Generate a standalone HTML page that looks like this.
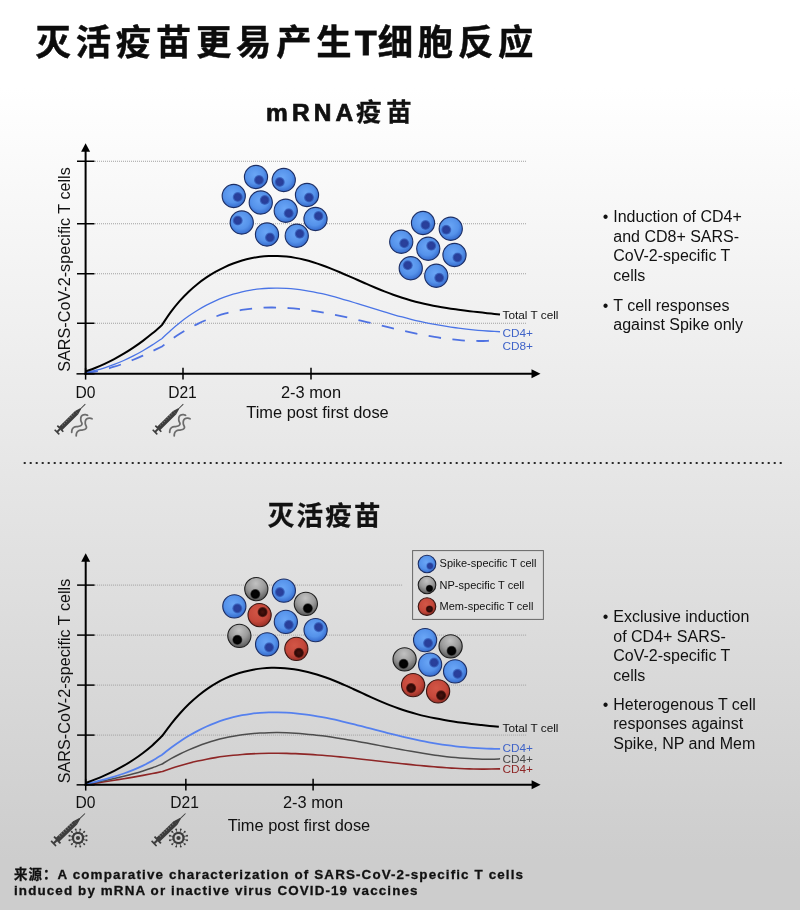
<!DOCTYPE html>
<html lang="zh"><head><meta charset="utf-8"><title>灭活疫苗更易产生T细胞反应</title>
<style>html,body{margin:0;padding:0;background:#cdcdcd}body{width:800px;height:910px;overflow:hidden}svg{display:block}</style>
</head><body>
<svg width="800" height="910" viewBox="0 0 800 910">
<defs>
<linearGradient id="bg" x1="0" y1="0" x2="0" y2="1">
<stop offset="0" stop-color="#ffffff"/><stop offset="0.097" stop-color="#ffffff"/><stop offset="0.945" stop-color="#cdcdcd"/><stop offset="1" stop-color="#cdcdcd"/>
</linearGradient>
<radialGradient id="gb" cx="0.45" cy="0.4" r="0.64"><stop offset="0" stop-color="#6aa6f6"/><stop offset="0.6" stop-color="#5592ea"/><stop offset="0.86" stop-color="#3d74d4"/><stop offset="1" stop-color="#2c5cbc"/></radialGradient>
<radialGradient id="nb" cx="0.5" cy="0.5" r="0.5"><stop offset="0" stop-color="#2c409c"/><stop offset="0.65" stop-color="#273f9a"/><stop offset="1" stop-color="#2c50b0" stop-opacity="0.5"/></radialGradient>
<radialGradient id="gg" cx="0.48" cy="0.26" r="0.8"><stop offset="0" stop-color="#c2c2c2"/><stop offset="0.5" stop-color="#9a9a9a"/><stop offset="1" stop-color="#4c4c4c"/></radialGradient>
<radialGradient id="ng" cx="0.5" cy="0.5" r="0.5"><stop offset="0" stop-color="#050505"/><stop offset="0.75" stop-color="#000"/><stop offset="1" stop-color="#222" stop-opacity="0.6"/></radialGradient>
<radialGradient id="gr" cx="0.42" cy="0.36" r="0.7"><stop offset="0" stop-color="#d25646"/><stop offset="0.6" stop-color="#c4473a"/><stop offset="1" stop-color="#8e2a22"/></radialGradient>
<radialGradient id="nr" cx="0.5" cy="0.5" r="0.5"><stop offset="0" stop-color="#4a120e"/><stop offset="0.7" stop-color="#2e0906"/><stop offset="1" stop-color="#3a0e0a" stop-opacity="0.6"/></radialGradient>
</defs>
<rect width="800" height="910" fill="url(#bg)"/>

<text x="35.6" y="54.5" font-family="'Liberation Sans', 'Noto Sans CJK SC', sans-serif" font-weight="700" font-size="35.3" letter-spacing="4.8" fill="#0c0c0c" stroke="#0c0c0c" stroke-width="0.45">灭活疫苗更易产生<tspan dx="-1.5" letter-spacing="1.3" stroke-width="1">T</tspan>细胞反应</text>
<text x="266" y="121" font-family="'Liberation Sans', 'Noto Sans CJK SC', sans-serif" font-weight="700" font-size="25.5" letter-spacing="4.75" fill="#111" stroke="#111" stroke-width="0.3"><tspan font-size="24.5" letter-spacing="4.1" stroke="#111" stroke-width="0.7">mRNA</tspan><tspan dx="-1.2">疫苗</tspan></text>
<text x="267.8" y="524.6" font-family="'Liberation Sans', 'Noto Sans CJK SC', sans-serif" font-weight="700" font-size="26.5" letter-spacing="2.2" fill="#111" stroke="#111" stroke-width="0.3">灭活疫苗</text>
<line x1="23.7" y1="463" x2="783" y2="463" stroke="#2a2a2a" stroke-width="2" stroke-dasharray="2 4"/>
<line x1="95" y1="161.25" x2="526.00" y2="161.25" stroke="#a0a0a0" stroke-width="1" stroke-dasharray="1 1"/><line x1="95" y1="223.75" x2="526.00" y2="223.75" stroke="#a0a0a0" stroke-width="1" stroke-dasharray="1 1"/><line x1="95" y1="273.75" x2="526.00" y2="273.75" stroke="#a0a0a0" stroke-width="1" stroke-dasharray="1 1"/><line x1="95" y1="323.25" x2="526.00" y2="323.25" stroke="#a0a0a0" stroke-width="1" stroke-dasharray="1 1"/>
<path d="M85.50,373.00 C87.09,372.76 91.88,372.17 95.06,371.58 C98.25,370.99 101.44,370.28 104.62,369.47 C107.81,368.66 111.00,367.73 114.19,366.73 C117.38,365.72 120.56,364.62 123.75,363.45 C126.94,362.28 130.12,361.02 133.31,359.71 C136.50,358.39 139.69,357.01 142.88,355.58 C146.06,354.15 149.25,352.67 152.44,351.15 C155.62,349.64 160.41,347.28 162.00,346.50 C163.51,345.36 168.06,341.80 171.08,339.65 C174.11,337.49 177.14,335.47 180.17,333.56 C183.19,331.66 186.22,329.88 189.25,328.21 C192.28,326.55 195.31,325.00 198.33,323.57 C201.36,322.13 204.39,320.81 207.42,319.59 C210.44,318.36 213.47,317.25 216.50,316.24 C219.53,315.22 222.56,314.31 225.58,313.49 C228.61,312.66 231.64,311.94 234.67,311.30 C237.69,310.66 240.72,310.12 243.75,309.65 C246.78,309.18 249.81,308.80 252.83,308.49 C255.86,308.18 258.89,307.95 261.92,307.79 C264.94,307.63 267.97,307.55 271.00,307.52 C274.03,307.50 277.06,307.55 280.08,307.65 C283.11,307.75 286.14,307.92 289.17,308.13 C292.19,308.35 295.22,308.63 298.25,308.95 C301.28,309.26 304.31,309.64 307.33,310.05 C310.36,310.46 313.39,310.92 316.42,311.41 C319.44,311.90 322.47,312.43 325.50,312.99 C328.53,313.55 331.56,314.15 334.58,314.76 C337.61,315.38 340.64,316.03 343.67,316.69 C346.69,317.35 349.72,318.04 352.75,318.74 C355.78,319.43 358.81,320.15 361.83,320.87 C364.86,321.59 367.89,322.33 370.92,323.06 C373.94,323.79 376.97,324.53 380.00,325.26 C383.03,326.00 386.06,326.73 389.08,327.45 C392.11,328.18 395.14,328.89 398.17,329.59 C401.19,330.29 404.22,330.98 407.25,331.65 C410.28,332.32 413.31,332.97 416.33,333.59 C419.36,334.21 422.39,334.81 425.42,335.37 C428.44,335.94 431.47,336.48 434.50,336.97 C437.53,337.47 440.56,337.94 443.58,338.35 C446.61,338.77 449.64,339.15 452.67,339.48 C455.69,339.80 458.72,340.09 461.75,340.31 C464.78,340.54 467.81,340.72 470.83,340.83 C473.86,340.94 476.89,341.00 479.92,340.98 C482.94,340.97 487.49,340.79 489.00,340.75" fill="none" stroke="#4f72e2" stroke-width="1.8" stroke-dasharray="12.5 11.5" stroke-dashoffset="0"/>
<path d="M85.50,372.50 C87.09,372.16 91.88,371.25 95.06,370.47 C98.25,369.68 101.44,368.78 104.62,367.78 C107.81,366.78 111.00,365.67 114.19,364.45 C117.38,363.23 120.56,361.91 123.75,360.49 C126.94,359.06 130.12,357.53 133.31,355.90 C136.50,354.27 139.69,352.53 142.88,350.70 C146.06,348.86 149.25,346.93 152.44,344.90 C155.62,342.86 160.41,339.57 162.00,338.50 C163.48,337.11 167.93,332.81 170.89,330.18 C173.86,327.55 176.82,325.06 179.79,322.71 C182.75,320.36 185.72,318.16 188.68,316.08 C191.65,314.00 194.61,312.06 197.58,310.24 C200.54,308.42 203.51,306.73 206.47,305.16 C209.44,303.59 212.40,302.15 215.37,300.81 C218.33,299.48 221.30,298.27 224.26,297.16 C227.23,296.06 230.19,295.07 233.16,294.18 C236.12,293.29 239.09,292.51 242.05,291.82 C245.02,291.14 247.98,290.56 250.95,290.07 C253.91,289.58 256.88,289.19 259.84,288.89 C262.81,288.58 265.77,288.37 268.74,288.24 C271.70,288.10 274.67,288.06 277.63,288.09 C280.60,288.12 283.56,288.23 286.53,288.41 C289.49,288.59 292.46,288.85 295.42,289.17 C298.39,289.49 301.35,289.88 304.32,290.33 C307.28,290.78 310.25,291.30 313.21,291.86 C316.18,292.43 319.14,293.06 322.11,293.74 C325.07,294.41 328.04,295.15 331.00,295.92 C333.96,296.68 336.93,297.51 339.89,298.35 C342.86,299.19 345.82,300.07 348.79,300.96 C351.75,301.85 354.72,302.77 357.68,303.69 C360.65,304.61 363.61,305.55 366.58,306.48 C369.54,307.40 372.51,308.33 375.47,309.24 C378.44,310.15 381.40,311.06 384.37,311.94 C387.33,312.82 390.30,313.68 393.26,314.52 C396.23,315.36 399.19,316.19 402.16,316.98 C405.12,317.77 408.09,318.54 411.05,319.27 C414.02,320.00 416.98,320.71 419.95,321.37 C422.91,322.04 425.88,322.67 428.84,323.27 C431.81,323.86 434.77,324.42 437.74,324.95 C440.70,325.48 443.67,325.98 446.63,326.44 C449.60,326.91 452.56,327.34 455.53,327.75 C458.49,328.15 461.46,328.52 464.42,328.87 C467.39,329.22 470.35,329.53 473.32,329.82 C476.28,330.11 479.25,330.38 482.21,330.61 C485.18,330.85 488.14,331.06 491.11,331.25 C494.07,331.44 498.52,331.67 500.00,331.75" fill="none" stroke="#4a74e6" stroke-width="1.3"/>
<path d="M85.50,371.50 C87.09,370.91 91.88,369.24 95.06,367.96 C98.25,366.68 101.44,365.31 104.62,363.84 C107.81,362.36 111.00,360.79 114.19,359.10 C117.38,357.41 120.56,355.62 123.75,353.71 C126.94,351.80 130.12,349.78 133.31,347.64 C136.50,345.49 139.69,343.24 142.88,340.85 C146.06,338.46 149.25,335.96 152.44,333.32 C155.62,330.67 160.41,326.39 162.00,325.00 C163.48,322.83 167.93,315.97 170.89,311.96 C173.86,307.96 176.82,304.32 179.79,300.94 C182.75,297.56 185.72,294.52 188.68,291.69 C191.65,288.85 194.61,286.31 197.58,283.94 C200.54,281.57 203.51,279.45 206.47,277.45 C209.44,275.46 212.40,273.66 215.37,271.97 C218.33,270.29 221.30,268.75 224.26,267.35 C227.23,265.94 230.19,264.68 233.16,263.54 C236.12,262.41 239.09,261.41 242.05,260.53 C245.02,259.66 247.98,258.91 250.95,258.29 C253.91,257.67 256.88,257.18 259.84,256.81 C262.81,256.43 265.77,256.18 268.74,256.04 C271.70,255.91 274.67,255.89 277.63,255.98 C280.60,256.08 283.56,256.29 286.53,256.60 C289.49,256.92 292.46,257.35 295.42,257.88 C298.39,258.41 301.35,259.06 304.32,259.79 C307.28,260.52 310.25,261.37 313.21,262.27 C316.18,263.18 319.14,264.18 322.11,265.24 C325.07,266.29 328.04,267.42 331.00,268.58 C333.96,269.75 336.93,270.97 339.89,272.22 C342.86,273.46 345.82,274.75 348.79,276.05 C351.75,277.34 354.72,278.67 357.68,279.98 C360.65,281.29 363.61,282.61 366.58,283.91 C369.54,285.20 372.51,286.50 375.47,287.75 C378.44,289.00 381.40,290.23 384.37,291.40 C387.33,292.57 390.30,293.71 393.26,294.77 C396.23,295.84 399.19,296.84 402.16,297.78 C405.12,298.72 408.09,299.59 411.05,300.42 C414.02,301.24 416.98,302.01 419.95,302.73 C422.91,303.45 425.88,304.11 428.84,304.74 C431.81,305.36 434.77,305.94 437.74,306.49 C440.70,307.04 443.67,307.54 446.63,308.02 C449.60,308.50 452.56,308.94 455.53,309.36 C458.49,309.78 461.46,310.17 464.42,310.55 C467.39,310.92 470.35,311.28 473.32,311.62 C476.28,311.96 479.25,312.29 482.21,312.61 C485.18,312.94 488.14,313.25 491.11,313.56 C494.07,313.88 498.52,314.34 500.00,314.50" fill="none" stroke="#000" stroke-width="2"/>
<line x1="85.6" y1="149.20" x2="85.6" y2="374.85" stroke="#000" stroke-width="2"/><polygon points="85.6,143.20 81.1,151.70 90.1,151.70" fill="#000"/><line x1="84.5" y1="373.85" x2="534" y2="373.85" stroke="#000" stroke-width="2"/><polygon points="540.5,373.85 531.5,369.35 531.5,378.35" fill="#000"/><line x1="77" y1="161.25" x2="94.5" y2="161.25" stroke="#000" stroke-width="1.5"/><line x1="77" y1="223.75" x2="94.5" y2="223.75" stroke="#000" stroke-width="1.5"/><line x1="77" y1="273.75" x2="94.5" y2="273.75" stroke="#000" stroke-width="1.5"/><line x1="77" y1="323.25" x2="94.5" y2="323.25" stroke="#000" stroke-width="1.5"/><line x1="76.5" y1="373.85" x2="94.5" y2="373.85" stroke="#000" stroke-width="1.5"/><line x1="85.60" y1="367.85" x2="85.60" y2="379.60" stroke="#000" stroke-width="1.5"/><line x1="183.00" y1="367.85" x2="183.00" y2="379.60" stroke="#000" stroke-width="1.5"/><line x1="311.00" y1="367.85" x2="311.00" y2="379.60" stroke="#000" stroke-width="1.5"/>
<circle cx="256.00" cy="177.00" r="11.60" fill="url(#gb)" stroke="#1c2e64" stroke-width="1.1"/><circle cx="259.00" cy="180.00" r="5.10" fill="url(#nb)"/>
<circle cx="283.75" cy="180.00" r="11.60" fill="url(#gb)" stroke="#1c2e64" stroke-width="1.1"/><circle cx="279.75" cy="182.00" r="5.10" fill="url(#nb)"/>
<circle cx="233.75" cy="196.00" r="11.60" fill="url(#gb)" stroke="#1c2e64" stroke-width="1.1"/><circle cx="237.75" cy="197.00" r="5.10" fill="url(#nb)"/>
<circle cx="260.75" cy="202.50" r="11.60" fill="url(#gb)" stroke="#1c2e64" stroke-width="1.1"/><circle cx="264.75" cy="200.00" r="5.10" fill="url(#nb)"/>
<circle cx="307.00" cy="195.00" r="11.60" fill="url(#gb)" stroke="#1c2e64" stroke-width="1.1"/><circle cx="309.00" cy="197.50" r="5.10" fill="url(#nb)"/>
<circle cx="285.75" cy="210.75" r="11.60" fill="url(#gb)" stroke="#1c2e64" stroke-width="1.1"/><circle cx="288.75" cy="213.25" r="5.10" fill="url(#nb)"/>
<circle cx="315.50" cy="219.00" r="11.60" fill="url(#gb)" stroke="#1c2e64" stroke-width="1.1"/><circle cx="318.50" cy="216.00" r="5.10" fill="url(#nb)"/>
<circle cx="241.75" cy="222.50" r="11.60" fill="url(#gb)" stroke="#1c2e64" stroke-width="1.1"/><circle cx="237.75" cy="220.50" r="5.10" fill="url(#nb)"/>
<circle cx="267.00" cy="234.50" r="11.60" fill="url(#gb)" stroke="#1c2e64" stroke-width="1.1"/><circle cx="270.00" cy="237.50" r="5.10" fill="url(#nb)"/>
<circle cx="296.75" cy="235.75" r="11.60" fill="url(#gb)" stroke="#1c2e64" stroke-width="1.1"/><circle cx="299.75" cy="233.75" r="5.10" fill="url(#nb)"/>
<circle cx="423.00" cy="223.00" r="11.60" fill="url(#gb)" stroke="#1c2e64" stroke-width="1.1"/><circle cx="425.50" cy="225.00" r="5.10" fill="url(#nb)"/>
<circle cx="450.75" cy="228.75" r="11.60" fill="url(#gb)" stroke="#1c2e64" stroke-width="1.1"/><circle cx="446.25" cy="229.75" r="5.10" fill="url(#nb)"/>
<circle cx="401.25" cy="241.75" r="11.60" fill="url(#gb)" stroke="#1c2e64" stroke-width="1.1"/><circle cx="404.25" cy="243.25" r="5.10" fill="url(#nb)"/>
<circle cx="428.25" cy="248.75" r="11.60" fill="url(#gb)" stroke="#1c2e64" stroke-width="1.1"/><circle cx="431.25" cy="245.75" r="5.10" fill="url(#nb)"/>
<circle cx="454.50" cy="255.00" r="11.60" fill="url(#gb)" stroke="#1c2e64" stroke-width="1.1"/><circle cx="457.50" cy="257.50" r="5.10" fill="url(#nb)"/>
<circle cx="410.75" cy="268.25" r="11.60" fill="url(#gb)" stroke="#1c2e64" stroke-width="1.1"/><circle cx="407.75" cy="265.25" r="5.10" fill="url(#nb)"/>
<circle cx="436.25" cy="275.75" r="11.60" fill="url(#gb)" stroke="#1c2e64" stroke-width="1.1"/><circle cx="439.25" cy="277.75" r="5.10" fill="url(#nb)"/>
<text x="502.5" y="319" font-family="'Liberation Sans', 'Noto Sans CJK SC', sans-serif" font-size="11.8" fill="#111">Total T cell</text>
<text x="502.5" y="336.75" font-family="'Liberation Sans', 'Noto Sans CJK SC', sans-serif" font-size="11.8" fill="#3f63c8">CD4+</text>
<text x="502.5" y="350" font-family="'Liberation Sans', 'Noto Sans CJK SC', sans-serif" font-size="11.8" fill="#3f63c8">CD8+</text>
<text x="85.5" y="397.5" text-anchor="middle" font-family="'Liberation Sans', 'Noto Sans CJK SC', sans-serif" font-size="15.6" fill="#111">D0</text>
<text x="182.5" y="397.5" text-anchor="middle" font-family="'Liberation Sans', 'Noto Sans CJK SC', sans-serif" font-size="15.6" fill="#111">D21</text>
<text x="311" y="397.5" text-anchor="middle" font-family="'Liberation Sans', 'Noto Sans CJK SC', sans-serif" font-size="16.4" fill="#111">2-3 mon</text>
<text x="317.5" y="418.4" text-anchor="middle" font-family="'Liberation Sans', 'Noto Sans CJK SC', sans-serif" font-size="16.4" fill="#111">Time post first dose</text>
<text transform="translate(70,269.5) rotate(-90)" text-anchor="middle" font-family="'Liberation Sans', 'Noto Sans CJK SC', sans-serif" font-size="16.2" fill="#111">SARS-CoV-2-specific T cells</text>
<g transform="translate(85.30,404.10) rotate(135.40) scale(1.0012)" fill="#3d3d3d" stroke="none"><rect x="0" y="-0.45" width="8" height="0.9"/><polygon points="6.6,-0.6 12.2,-2.3 12.2,2.3 6.6,0.6"/><rect x="12" y="-2.35" width="23" height="4.7" rx="0.5"/><rect x="34.2" y="-4.3" width="1.7" height="8.6" rx="0.4"/><rect x="35.5" y="-1.0" width="4" height="2.0"/><rect x="38.9" y="-3.3" width="1.6" height="6.6" rx="0.4"/><rect x="15.00" y="0.3" width="0.55" height="2.05" fill="#909090"/><rect x="17.60" y="0.3" width="0.55" height="2.05" fill="#909090"/><rect x="20.20" y="0.3" width="0.55" height="2.05" fill="#909090"/><rect x="22.80" y="0.3" width="0.55" height="2.05" fill="#909090"/><rect x="25.40" y="0.3" width="0.55" height="2.05" fill="#909090"/><rect x="28.00" y="0.3" width="0.55" height="2.05" fill="#909090"/><rect x="30.60" y="0.3" width="0.55" height="2.05" fill="#909090"/></g>
<path d="M87.60,415.25 C87.25,415.15 86.20,414.72 85.50,414.65 C84.80,414.57 84.03,414.61 83.40,414.80 C82.77,414.99 82.12,415.35 81.70,415.80 C81.28,416.25 81.06,416.93 80.90,417.50 C80.74,418.07 80.75,418.65 80.75,419.20 C80.75,419.75 80.76,420.27 80.90,420.80 C81.04,421.33 81.42,421.92 81.60,422.40 C81.78,422.88 82.02,423.22 82.00,423.65 C81.98,424.08 81.83,424.61 81.50,425.00 C81.17,425.39 80.67,425.73 80.00,426.00 C79.33,426.27 78.33,426.45 77.50,426.60 C76.67,426.75 75.70,426.70 75.00,426.90 C74.30,427.10 73.77,427.40 73.30,427.80 C72.83,428.20 72.45,428.77 72.20,429.30 C71.95,429.83 71.88,430.48 71.80,431.00 C71.72,431.52 71.72,432.17 71.70,432.40" fill="none" stroke="#6c6c6c" stroke-width="1.75" stroke-linecap="round"/><path d="M92.10,418.75 C91.75,418.65 90.70,418.22 90.00,418.15 C89.30,418.07 88.53,418.11 87.90,418.30 C87.27,418.49 86.62,418.85 86.20,419.30 C85.78,419.75 85.56,420.43 85.40,421.00 C85.24,421.57 85.25,422.15 85.25,422.70 C85.25,423.25 85.26,423.77 85.40,424.30 C85.54,424.83 85.92,425.42 86.10,425.90 C86.28,426.38 86.52,426.72 86.50,427.15 C86.48,427.58 86.33,428.11 86.00,428.50 C85.67,428.89 85.17,429.23 84.50,429.50 C83.83,429.77 82.83,429.95 82.00,430.10 C81.17,430.25 80.20,430.20 79.50,430.40 C78.80,430.60 78.27,430.90 77.80,431.30 C77.33,431.70 76.95,432.27 76.70,432.80 C76.45,433.33 76.38,433.98 76.30,434.50 C76.22,435.02 76.22,435.67 76.20,435.90" fill="none" stroke="#6c6c6c" stroke-width="1.75" stroke-linecap="round"/>
<g transform="translate(183.30,404.10) rotate(135.40) scale(1.0012)" fill="#3d3d3d" stroke="none"><rect x="0" y="-0.45" width="8" height="0.9"/><polygon points="6.6,-0.6 12.2,-2.3 12.2,2.3 6.6,0.6"/><rect x="12" y="-2.35" width="23" height="4.7" rx="0.5"/><rect x="34.2" y="-4.3" width="1.7" height="8.6" rx="0.4"/><rect x="35.5" y="-1.0" width="4" height="2.0"/><rect x="38.9" y="-3.3" width="1.6" height="6.6" rx="0.4"/><rect x="15.00" y="0.3" width="0.55" height="2.05" fill="#909090"/><rect x="17.60" y="0.3" width="0.55" height="2.05" fill="#909090"/><rect x="20.20" y="0.3" width="0.55" height="2.05" fill="#909090"/><rect x="22.80" y="0.3" width="0.55" height="2.05" fill="#909090"/><rect x="25.40" y="0.3" width="0.55" height="2.05" fill="#909090"/><rect x="28.00" y="0.3" width="0.55" height="2.05" fill="#909090"/><rect x="30.60" y="0.3" width="0.55" height="2.05" fill="#909090"/></g>
<path d="M185.60,415.25 C185.25,415.15 184.20,414.72 183.50,414.65 C182.80,414.57 182.03,414.61 181.40,414.80 C180.77,414.99 180.12,415.35 179.70,415.80 C179.28,416.25 179.06,416.93 178.90,417.50 C178.74,418.07 178.75,418.65 178.75,419.20 C178.75,419.75 178.76,420.27 178.90,420.80 C179.04,421.33 179.42,421.92 179.60,422.40 C179.78,422.88 180.02,423.22 180.00,423.65 C179.98,424.08 179.83,424.61 179.50,425.00 C179.17,425.39 178.67,425.73 178.00,426.00 C177.33,426.27 176.33,426.45 175.50,426.60 C174.67,426.75 173.70,426.70 173.00,426.90 C172.30,427.10 171.77,427.40 171.30,427.80 C170.83,428.20 170.45,428.77 170.20,429.30 C169.95,429.83 169.88,430.48 169.80,431.00 C169.72,431.52 169.72,432.17 169.70,432.40" fill="none" stroke="#6c6c6c" stroke-width="1.75" stroke-linecap="round"/><path d="M190.10,418.75 C189.75,418.65 188.70,418.22 188.00,418.15 C187.30,418.07 186.53,418.11 185.90,418.30 C185.27,418.49 184.62,418.85 184.20,419.30 C183.78,419.75 183.56,420.43 183.40,421.00 C183.24,421.57 183.25,422.15 183.25,422.70 C183.25,423.25 183.26,423.77 183.40,424.30 C183.54,424.83 183.92,425.42 184.10,425.90 C184.28,426.38 184.52,426.72 184.50,427.15 C184.48,427.58 184.33,428.11 184.00,428.50 C183.67,428.89 183.17,429.23 182.50,429.50 C181.83,429.77 180.83,429.95 180.00,430.10 C179.17,430.25 178.20,430.20 177.50,430.40 C176.80,430.60 176.27,430.90 175.80,431.30 C175.33,431.70 174.95,432.27 174.70,432.80 C174.45,433.33 174.38,433.98 174.30,434.50 C174.22,435.02 174.22,435.67 174.20,435.90" fill="none" stroke="#6c6c6c" stroke-width="1.75" stroke-linecap="round"/>
<text x="602.75" y="222.25" font-family="'Liberation Sans', 'Noto Sans CJK SC', sans-serif" font-size="16" fill="#111">•</text><text x="613.25" y="222.25" font-family="'Liberation Sans', 'Noto Sans CJK SC', sans-serif" font-size="16" fill="#111">Induction of CD4+</text><text x="613.25" y="241.75" font-family="'Liberation Sans', 'Noto Sans CJK SC', sans-serif" font-size="16" fill="#111">and CD8+ SARS-</text><text x="613.25" y="261.25" font-family="'Liberation Sans', 'Noto Sans CJK SC', sans-serif" font-size="16" fill="#111">CoV-2-specific T</text><text x="613.25" y="280.75" font-family="'Liberation Sans', 'Noto Sans CJK SC', sans-serif" font-size="16" fill="#111">cells</text><text x="602.75" y="310.50" font-family="'Liberation Sans', 'Noto Sans CJK SC', sans-serif" font-size="16" fill="#111">•</text><text x="613.25" y="310.50" font-family="'Liberation Sans', 'Noto Sans CJK SC', sans-serif" font-size="16" fill="#111">T cell responses</text><text x="613.25" y="330.00" font-family="'Liberation Sans', 'Noto Sans CJK SC', sans-serif" font-size="16" fill="#111">against Spike only</text>
<g transform="translate(0.1,0.1)">
<line x1="95" y1="585.00" x2="403.00" y2="585.00" stroke="#a0a0a0" stroke-width="1" stroke-dasharray="1 1"/><line x1="95" y1="635.00" x2="526.00" y2="635.00" stroke="#a0a0a0" stroke-width="1" stroke-dasharray="1 1"/><line x1="95" y1="685.00" x2="526.00" y2="685.00" stroke="#a0a0a0" stroke-width="1" stroke-dasharray="1 1"/><line x1="95" y1="735.00" x2="526.00" y2="735.00" stroke="#a0a0a0" stroke-width="1" stroke-dasharray="1 1"/>
<path d="M85.50,784.50 C87.09,784.26 91.88,783.54 95.06,783.06 C98.25,782.58 101.44,782.10 104.62,781.62 C107.81,781.13 111.00,780.64 114.19,780.14 C117.38,779.64 120.56,779.14 123.75,778.61 C126.94,778.09 130.12,777.56 133.31,777.01 C136.50,776.46 139.69,775.89 142.88,775.30 C146.06,774.72 149.25,774.11 152.44,773.48 C155.62,772.84 160.41,771.83 162.00,771.50 C163.48,770.98 167.93,769.36 170.89,768.37 C173.86,767.39 176.82,766.46 179.79,765.58 C182.75,764.71 185.72,763.89 188.68,763.12 C191.65,762.35 194.61,761.64 197.58,760.97 C200.54,760.30 203.51,759.68 206.47,759.11 C209.44,758.53 212.40,758.01 215.37,757.53 C218.33,757.05 221.30,756.61 224.26,756.22 C227.23,755.82 230.19,755.47 233.16,755.15 C236.12,754.84 239.09,754.57 242.05,754.33 C245.02,754.09 247.98,753.90 250.95,753.73 C253.91,753.57 256.88,753.44 259.84,753.34 C262.81,753.24 265.77,753.18 268.74,753.14 C271.70,753.10 274.67,753.10 277.63,753.12 C280.60,753.14 283.56,753.19 286.53,753.27 C289.49,753.34 292.46,753.44 295.42,753.57 C298.39,753.69 301.35,753.83 304.32,754.00 C307.28,754.16 310.25,754.35 313.21,754.55 C316.18,754.76 319.14,754.98 322.11,755.22 C325.07,755.45 328.04,755.71 331.00,755.97 C333.96,756.24 336.93,756.52 339.89,756.81 C342.86,757.09 345.82,757.40 348.79,757.70 C351.75,758.01 354.72,758.33 357.68,758.65 C360.65,758.97 363.61,759.30 366.58,759.63 C369.54,759.96 372.51,760.30 375.47,760.64 C378.44,760.97 381.40,761.31 384.37,761.64 C387.33,761.98 390.30,762.32 393.26,762.65 C396.23,762.98 399.19,763.30 402.16,763.62 C405.12,763.94 408.09,764.26 411.05,764.56 C414.02,764.87 416.98,765.17 419.95,765.45 C422.91,765.74 425.88,766.02 428.84,766.28 C431.81,766.54 434.77,766.79 437.74,767.02 C440.70,767.25 443.67,767.47 446.63,767.67 C449.60,767.86 452.56,768.05 455.53,768.20 C458.49,768.36 461.46,768.50 464.42,768.62 C467.39,768.73 470.35,768.83 473.32,768.90 C476.28,768.96 479.25,769.01 482.21,769.02 C485.18,769.03 488.14,769.02 491.11,768.97 C494.07,768.93 498.52,768.79 500.00,768.75" fill="none" stroke="#8e2626" stroke-width="1.6"/>
<path d="M85.50,784.30 C87.09,783.98 91.88,783.00 95.06,782.35 C98.25,781.70 101.44,781.07 104.62,780.41 C107.81,779.74 111.00,779.08 114.19,778.37 C117.38,777.67 120.56,776.95 123.75,776.17 C126.94,775.39 130.12,774.58 133.31,773.71 C136.50,772.83 139.69,771.90 142.88,770.90 C146.06,769.89 149.25,768.82 152.44,767.66 C155.62,766.49 160.41,764.53 162.00,763.90 C163.48,763.02 167.93,760.29 170.89,758.62 C173.86,756.96 176.82,755.39 179.79,753.91 C182.75,752.43 185.72,751.04 188.68,749.73 C191.65,748.43 194.61,747.21 197.58,746.08 C200.54,744.94 203.51,743.89 206.47,742.91 C209.44,741.94 212.40,741.04 215.37,740.22 C218.33,739.39 221.30,738.65 224.26,737.97 C227.23,737.29 230.19,736.68 233.16,736.14 C236.12,735.59 239.09,735.12 242.05,734.71 C245.02,734.29 247.98,733.94 250.95,733.65 C253.91,733.35 256.88,733.12 259.84,732.94 C262.81,732.76 265.77,732.63 268.74,732.56 C271.70,732.48 274.67,732.46 277.63,732.47 C280.60,732.49 283.56,732.56 286.53,732.67 C289.49,732.78 292.46,732.93 295.42,733.12 C298.39,733.31 301.35,733.54 304.32,733.80 C307.28,734.06 310.25,734.36 313.21,734.69 C316.18,735.02 319.14,735.38 322.11,735.76 C325.07,736.14 328.04,736.56 331.00,736.99 C333.96,737.42 336.93,737.88 339.89,738.35 C342.86,738.83 345.82,739.32 348.79,739.83 C351.75,740.33 354.72,740.86 357.68,741.39 C360.65,741.92 363.61,742.47 366.58,743.01 C369.54,743.56 372.51,744.12 375.47,744.68 C378.44,745.24 381.40,745.80 384.37,746.36 C387.33,746.92 390.30,747.48 393.26,748.03 C396.23,748.58 399.19,749.13 402.16,749.67 C405.12,750.21 408.09,750.74 411.05,751.25 C414.02,751.77 416.98,752.27 419.95,752.75 C422.91,753.24 425.88,753.71 428.84,754.15 C431.81,754.60 434.77,755.03 437.74,755.43 C440.70,755.82 443.67,756.20 446.63,756.55 C449.60,756.89 452.56,757.21 455.53,757.49 C458.49,757.77 461.46,758.02 464.42,758.24 C467.39,758.45 470.35,758.63 473.32,758.76 C476.28,758.89 479.25,758.99 482.21,759.03 C485.18,759.08 488.14,759.09 491.11,759.04 C494.07,758.99 498.52,758.80 500.00,758.75" fill="none" stroke="#4d4d4d" stroke-width="1.5"/>
<path d="M85.50,784.00 C87.09,783.62 91.88,782.51 95.06,781.73 C98.25,780.94 101.44,780.14 104.62,779.27 C107.81,778.41 111.00,777.51 114.19,776.53 C117.38,775.55 120.56,774.52 123.75,773.39 C126.94,772.26 130.12,771.07 133.31,769.75 C136.50,768.43 139.69,767.03 142.88,765.49 C146.06,763.95 149.25,762.31 152.44,760.51 C155.62,758.71 160.41,755.67 162.00,754.70 C163.48,753.53 167.93,749.91 170.89,747.69 C173.86,745.47 176.82,743.37 179.79,741.38 C182.75,739.39 185.72,737.51 188.68,735.74 C191.65,733.97 194.61,732.31 197.58,730.76 C200.54,729.21 203.51,727.76 206.47,726.42 C209.44,725.08 212.40,723.85 215.37,722.71 C218.33,721.57 221.30,720.54 224.26,719.60 C227.23,718.67 230.19,717.83 233.16,717.09 C236.12,716.34 239.09,715.69 242.05,715.13 C245.02,714.56 247.98,714.09 250.95,713.69 C253.91,713.29 256.88,712.99 259.84,712.75 C262.81,712.51 265.77,712.35 268.74,712.26 C271.70,712.17 274.67,712.16 277.63,712.20 C280.60,712.24 283.56,712.36 286.53,712.53 C289.49,712.70 292.46,712.93 295.42,713.22 C298.39,713.50 301.35,713.84 304.32,714.22 C307.28,714.61 310.25,715.05 313.21,715.52 C316.18,716.00 319.14,716.53 322.11,717.08 C325.07,717.64 328.04,718.24 331.00,718.86 C333.96,719.48 336.93,720.15 339.89,720.83 C342.86,721.51 345.82,722.22 348.79,722.94 C351.75,723.66 354.72,724.41 357.68,725.16 C360.65,725.92 363.61,726.69 366.58,727.46 C369.54,728.23 372.51,729.01 375.47,729.78 C378.44,730.56 381.40,731.34 384.37,732.10 C387.33,732.87 390.30,733.63 393.26,734.38 C396.23,735.12 399.19,735.86 402.16,736.57 C405.12,737.28 408.09,737.97 411.05,738.63 C414.02,739.30 416.98,739.94 419.95,740.54 C422.91,741.15 425.88,741.72 428.84,742.26 C431.81,742.80 434.77,743.30 437.74,743.77 C440.70,744.25 443.67,744.69 446.63,745.09 C449.60,745.50 452.56,745.87 455.53,746.20 C458.49,746.54 461.46,746.85 464.42,747.12 C467.39,747.39 470.35,747.63 473.32,747.83 C476.28,748.03 479.25,748.20 482.21,748.34 C485.18,748.48 488.14,748.58 491.11,748.65 C494.07,748.71 498.52,748.73 500.00,748.75" fill="none" stroke="#5580ee" stroke-width="1.8"/>
<path d="M85.50,783.00 C87.09,782.38 91.88,780.55 95.06,779.25 C98.25,777.95 101.44,776.62 104.62,775.20 C107.81,773.77 111.00,772.29 114.19,770.68 C117.38,769.08 120.56,767.40 123.75,765.56 C126.94,763.73 130.12,761.80 133.31,759.69 C136.50,757.58 139.69,755.34 142.88,752.90 C146.06,750.46 149.25,747.87 152.44,745.06 C155.62,742.24 160.41,737.51 162.00,736.00 C163.52,733.95 168.07,727.55 171.10,723.70 C174.14,719.84 177.17,716.25 180.20,712.87 C183.24,709.50 186.27,706.37 189.30,703.45 C192.34,700.53 195.37,697.84 198.41,695.34 C201.44,692.84 204.47,690.56 207.51,688.46 C210.54,686.36 213.57,684.46 216.61,682.73 C219.64,680.99 222.68,679.45 225.71,678.06 C228.74,676.66 231.78,675.45 234.81,674.36 C237.84,673.28 240.88,672.36 243.91,671.56 C246.95,670.76 249.98,670.10 253.01,669.55 C256.05,669.01 259.08,668.59 262.11,668.28 C265.15,667.98 268.18,667.79 271.22,667.71 C274.25,667.64 277.28,667.68 280.32,667.82 C283.35,667.96 286.39,668.21 289.42,668.56 C292.45,668.91 295.49,669.36 298.52,669.91 C301.55,670.46 304.59,671.11 307.62,671.84 C310.66,672.58 313.69,673.41 316.72,674.33 C319.76,675.26 322.79,676.27 325.82,677.37 C328.86,678.46 331.89,679.66 334.93,680.90 C337.96,682.13 340.99,683.46 344.03,684.79 C347.06,686.12 350.09,687.51 353.13,688.90 C356.16,690.28 359.20,691.70 362.23,693.09 C365.26,694.48 368.30,695.89 371.33,697.25 C374.36,698.61 377.40,699.97 380.43,701.27 C383.47,702.56 386.50,703.84 389.53,705.03 C392.57,706.22 395.60,707.36 398.64,708.42 C401.67,709.49 404.70,710.47 407.74,711.40 C410.77,712.33 413.80,713.19 416.84,714.00 C419.87,714.81 422.91,715.56 425.94,716.26 C428.97,716.96 432.01,717.61 435.04,718.22 C438.07,718.82 441.11,719.38 444.14,719.91 C447.18,720.44 450.21,720.92 453.24,721.38 C456.28,721.84 459.31,722.26 462.34,722.66 C465.38,723.07 468.41,723.44 471.45,723.80 C474.48,724.17 477.51,724.51 480.55,724.84 C483.58,725.17 486.61,725.49 489.65,725.81 C492.68,726.13 497.23,726.59 498.75,726.75" fill="none" stroke="#000" stroke-width="2"/>
<line x1="85.6" y1="559.25" x2="85.6" y2="785.75" stroke="#000" stroke-width="2"/><polygon points="85.6,553.25 81.1,561.75 90.1,561.75" fill="#000"/><line x1="84.5" y1="784.75" x2="534" y2="784.75" stroke="#000" stroke-width="2"/><polygon points="540.5,784.75 531.5,780.25 531.5,789.25" fill="#000"/><line x1="77" y1="585.00" x2="94.5" y2="585.00" stroke="#000" stroke-width="1.5"/><line x1="77" y1="635.00" x2="94.5" y2="635.00" stroke="#000" stroke-width="1.5"/><line x1="77" y1="685.00" x2="94.5" y2="685.00" stroke="#000" stroke-width="1.5"/><line x1="77" y1="735.00" x2="94.5" y2="735.00" stroke="#000" stroke-width="1.5"/><line x1="76.5" y1="784.75" x2="94.5" y2="784.75" stroke="#000" stroke-width="1.5"/><line x1="85.60" y1="778.75" x2="85.60" y2="790.50" stroke="#000" stroke-width="1.5"/><line x1="185.75" y1="778.75" x2="185.75" y2="790.50" stroke="#000" stroke-width="1.5"/><line x1="313.00" y1="778.75" x2="313.00" y2="790.50" stroke="#000" stroke-width="1.5"/>
<circle cx="256.20" cy="589.00" r="11.60" fill="url(#gg)" stroke="#1e1e1e" stroke-width="1.1"/><circle cx="255.20" cy="594.00" r="5.10" fill="url(#ng)"/>
<circle cx="283.75" cy="590.50" r="11.60" fill="url(#gb)" stroke="#1c2e64" stroke-width="1.1"/><circle cx="279.75" cy="592.00" r="5.10" fill="url(#nb)"/>
<circle cx="305.75" cy="603.75" r="11.60" fill="url(#gg)" stroke="#1e1e1e" stroke-width="1.1"/><circle cx="307.75" cy="608.25" r="5.10" fill="url(#ng)"/>
<circle cx="234.25" cy="606.25" r="11.60" fill="url(#gb)" stroke="#1c2e64" stroke-width="1.1"/><circle cx="237.25" cy="608.25" r="5.10" fill="url(#nb)"/>
<circle cx="259.50" cy="615.00" r="11.60" fill="url(#gr)" stroke="#3a1613" stroke-width="1.1"/><circle cx="262.50" cy="612.00" r="5.10" fill="url(#nr)"/>
<circle cx="285.75" cy="621.75" r="11.60" fill="url(#gb)" stroke="#1c2e64" stroke-width="1.1"/><circle cx="288.75" cy="624.75" r="5.10" fill="url(#nb)"/>
<circle cx="315.50" cy="630.00" r="11.60" fill="url(#gb)" stroke="#1c2e64" stroke-width="1.1"/><circle cx="318.50" cy="627.00" r="5.10" fill="url(#nb)"/>
<circle cx="239.25" cy="635.75" r="11.60" fill="url(#gg)" stroke="#1e1e1e" stroke-width="1.1"/><circle cx="237.25" cy="639.75" r="5.10" fill="url(#ng)"/>
<circle cx="267.00" cy="644.25" r="11.60" fill="url(#gb)" stroke="#1c2e64" stroke-width="1.1"/><circle cx="269.00" cy="647.25" r="5.10" fill="url(#nb)"/>
<circle cx="296.25" cy="648.75" r="11.60" fill="url(#gr)" stroke="#3a1613" stroke-width="1.1"/><circle cx="298.75" cy="652.75" r="5.10" fill="url(#nr)"/>
<circle cx="425.00" cy="640.00" r="11.60" fill="url(#gb)" stroke="#1c2e64" stroke-width="1.1"/><circle cx="428.00" cy="643.00" r="5.10" fill="url(#nb)"/>
<circle cx="450.50" cy="646.25" r="11.60" fill="url(#gg)" stroke="#1e1e1e" stroke-width="1.1"/><circle cx="451.50" cy="650.75" r="5.10" fill="url(#ng)"/>
<circle cx="404.50" cy="659.25" r="11.60" fill="url(#gg)" stroke="#1e1e1e" stroke-width="1.1"/><circle cx="403.50" cy="663.75" r="5.10" fill="url(#ng)"/>
<circle cx="430.00" cy="664.50" r="11.60" fill="url(#gb)" stroke="#1c2e64" stroke-width="1.1"/><circle cx="434.00" cy="662.50" r="5.10" fill="url(#nb)"/>
<circle cx="455.00" cy="671.25" r="11.60" fill="url(#gb)" stroke="#1c2e64" stroke-width="1.1"/><circle cx="457.50" cy="673.75" r="5.10" fill="url(#nb)"/>
<circle cx="413.00" cy="685.00" r="11.60" fill="url(#gr)" stroke="#3a1613" stroke-width="1.1"/><circle cx="411.00" cy="688.00" r="5.10" fill="url(#nr)"/>
<circle cx="438.00" cy="691.25" r="11.60" fill="url(#gr)" stroke="#3a1613" stroke-width="1.1"/><circle cx="441.00" cy="695.25" r="5.10" fill="url(#nr)"/>
</g>
<text x="502.5" y="731.75" font-family="'Liberation Sans', 'Noto Sans CJK SC', sans-serif" font-size="11.8" fill="#111">Total T cell</text>
<text x="502.5" y="751.75" font-family="'Liberation Sans', 'Noto Sans CJK SC', sans-serif" font-size="11.8" fill="#3f63c8">CD4+</text>
<text x="502.5" y="762.5" font-family="'Liberation Sans', 'Noto Sans CJK SC', sans-serif" font-size="11.8" fill="#4a4a4a">CD4+</text>
<text x="502.5" y="773" font-family="'Liberation Sans', 'Noto Sans CJK SC', sans-serif" font-size="11.8" fill="#8e2626">CD4+</text>
<text x="85.5" y="808" text-anchor="middle" font-family="'Liberation Sans', 'Noto Sans CJK SC', sans-serif" font-size="15.6" fill="#111">D0</text>
<text x="184.6" y="808" text-anchor="middle" font-family="'Liberation Sans', 'Noto Sans CJK SC', sans-serif" font-size="15.6" fill="#111">D21</text>
<text x="313" y="808" text-anchor="middle" font-family="'Liberation Sans', 'Noto Sans CJK SC', sans-serif" font-size="16.4" fill="#111">2-3 mon</text>
<text x="299" y="831" text-anchor="middle" font-family="'Liberation Sans', 'Noto Sans CJK SC', sans-serif" font-size="16.4" fill="#111">Time post first dose</text>
<text transform="translate(70,681) rotate(-90)" text-anchor="middle" font-family="'Liberation Sans', 'Noto Sans CJK SC', sans-serif" font-size="16.2" fill="#111">SARS-CoV-2-specific T cells</text>
<g transform="translate(85.00,813.50) rotate(136.37) scale(1.0942)" fill="#3d3d3d" stroke="none"><rect x="0" y="-0.45" width="8" height="0.9"/><polygon points="6.6,-0.6 12.2,-2.3 12.2,2.3 6.6,0.6"/><rect x="12" y="-2.35" width="23" height="4.7" rx="0.5"/><rect x="34.2" y="-4.3" width="1.7" height="8.6" rx="0.4"/><rect x="35.5" y="-1.0" width="4" height="2.0"/><rect x="38.9" y="-3.3" width="1.6" height="6.6" rx="0.4"/><rect x="15.00" y="0.3" width="0.55" height="2.05" fill="#909090"/><rect x="17.60" y="0.3" width="0.55" height="2.05" fill="#909090"/><rect x="20.20" y="0.3" width="0.55" height="2.05" fill="#909090"/><rect x="22.80" y="0.3" width="0.55" height="2.05" fill="#909090"/><rect x="25.40" y="0.3" width="0.55" height="2.05" fill="#909090"/><rect x="28.00" y="0.3" width="0.55" height="2.05" fill="#909090"/><rect x="30.60" y="0.3" width="0.55" height="2.05" fill="#909090"/></g>
<g fill="none" stroke="#3c3c3c"><circle cx="78.00" cy="838.00" r="5.05" stroke-width="2.3"/><circle cx="78.00" cy="838.00" r="2.1" fill="#3c3c3c" stroke="none"/><line x1="83.70" y1="839.53" x2="86.40" y2="840.25" stroke-width="0.8"/><circle cx="86.60" cy="840.30" r="0.95" fill="#3c3c3c" stroke="none"/><line x1="82.17" y1="842.17" x2="84.15" y2="844.15" stroke-width="0.8"/><circle cx="84.29" cy="844.29" r="0.95" fill="#3c3c3c" stroke="none"/><line x1="79.53" y1="843.70" x2="80.25" y2="846.40" stroke-width="0.8"/><circle cx="80.30" cy="846.60" r="0.95" fill="#3c3c3c" stroke="none"/><line x1="76.47" y1="843.70" x2="75.75" y2="846.40" stroke-width="0.8"/><circle cx="75.70" cy="846.60" r="0.95" fill="#3c3c3c" stroke="none"/><line x1="73.83" y1="842.17" x2="71.85" y2="844.15" stroke-width="0.8"/><circle cx="71.71" cy="844.29" r="0.95" fill="#3c3c3c" stroke="none"/><line x1="72.30" y1="839.53" x2="69.60" y2="840.25" stroke-width="0.8"/><circle cx="69.40" cy="840.30" r="0.95" fill="#3c3c3c" stroke="none"/><line x1="72.30" y1="836.47" x2="69.60" y2="835.75" stroke-width="0.8"/><circle cx="69.40" cy="835.70" r="0.95" fill="#3c3c3c" stroke="none"/><line x1="73.83" y1="833.83" x2="71.85" y2="831.85" stroke-width="0.8"/><circle cx="71.71" cy="831.71" r="0.95" fill="#3c3c3c" stroke="none"/><line x1="76.47" y1="832.30" x2="75.75" y2="829.60" stroke-width="0.8"/><circle cx="75.70" cy="829.40" r="0.95" fill="#3c3c3c" stroke="none"/><line x1="79.53" y1="832.30" x2="80.25" y2="829.60" stroke-width="0.8"/><circle cx="80.30" cy="829.40" r="0.95" fill="#3c3c3c" stroke="none"/><line x1="82.17" y1="833.83" x2="84.15" y2="831.85" stroke-width="0.8"/><circle cx="84.29" cy="831.71" r="0.95" fill="#3c3c3c" stroke="none"/><line x1="83.70" y1="836.47" x2="86.40" y2="835.75" stroke-width="0.8"/><circle cx="86.60" cy="835.70" r="0.95" fill="#3c3c3c" stroke="none"/></g>
<g transform="translate(185.50,813.50) rotate(136.37) scale(1.0942)" fill="#3d3d3d" stroke="none"><rect x="0" y="-0.45" width="8" height="0.9"/><polygon points="6.6,-0.6 12.2,-2.3 12.2,2.3 6.6,0.6"/><rect x="12" y="-2.35" width="23" height="4.7" rx="0.5"/><rect x="34.2" y="-4.3" width="1.7" height="8.6" rx="0.4"/><rect x="35.5" y="-1.0" width="4" height="2.0"/><rect x="38.9" y="-3.3" width="1.6" height="6.6" rx="0.4"/><rect x="15.00" y="0.3" width="0.55" height="2.05" fill="#909090"/><rect x="17.60" y="0.3" width="0.55" height="2.05" fill="#909090"/><rect x="20.20" y="0.3" width="0.55" height="2.05" fill="#909090"/><rect x="22.80" y="0.3" width="0.55" height="2.05" fill="#909090"/><rect x="25.40" y="0.3" width="0.55" height="2.05" fill="#909090"/><rect x="28.00" y="0.3" width="0.55" height="2.05" fill="#909090"/><rect x="30.60" y="0.3" width="0.55" height="2.05" fill="#909090"/></g>
<g fill="none" stroke="#3c3c3c"><circle cx="178.50" cy="838.00" r="5.05" stroke-width="2.3"/><circle cx="178.50" cy="838.00" r="2.1" fill="#3c3c3c" stroke="none"/><line x1="184.20" y1="839.53" x2="186.90" y2="840.25" stroke-width="0.8"/><circle cx="187.10" cy="840.30" r="0.95" fill="#3c3c3c" stroke="none"/><line x1="182.67" y1="842.17" x2="184.65" y2="844.15" stroke-width="0.8"/><circle cx="184.79" cy="844.29" r="0.95" fill="#3c3c3c" stroke="none"/><line x1="180.03" y1="843.70" x2="180.75" y2="846.40" stroke-width="0.8"/><circle cx="180.80" cy="846.60" r="0.95" fill="#3c3c3c" stroke="none"/><line x1="176.97" y1="843.70" x2="176.25" y2="846.40" stroke-width="0.8"/><circle cx="176.20" cy="846.60" r="0.95" fill="#3c3c3c" stroke="none"/><line x1="174.33" y1="842.17" x2="172.35" y2="844.15" stroke-width="0.8"/><circle cx="172.21" cy="844.29" r="0.95" fill="#3c3c3c" stroke="none"/><line x1="172.80" y1="839.53" x2="170.10" y2="840.25" stroke-width="0.8"/><circle cx="169.90" cy="840.30" r="0.95" fill="#3c3c3c" stroke="none"/><line x1="172.80" y1="836.47" x2="170.10" y2="835.75" stroke-width="0.8"/><circle cx="169.90" cy="835.70" r="0.95" fill="#3c3c3c" stroke="none"/><line x1="174.33" y1="833.83" x2="172.35" y2="831.85" stroke-width="0.8"/><circle cx="172.21" cy="831.71" r="0.95" fill="#3c3c3c" stroke="none"/><line x1="176.97" y1="832.30" x2="176.25" y2="829.60" stroke-width="0.8"/><circle cx="176.20" cy="829.40" r="0.95" fill="#3c3c3c" stroke="none"/><line x1="180.03" y1="832.30" x2="180.75" y2="829.60" stroke-width="0.8"/><circle cx="180.80" cy="829.40" r="0.95" fill="#3c3c3c" stroke="none"/><line x1="182.67" y1="833.83" x2="184.65" y2="831.85" stroke-width="0.8"/><circle cx="184.79" cy="831.71" r="0.95" fill="#3c3c3c" stroke="none"/><line x1="184.20" y1="836.47" x2="186.90" y2="835.75" stroke-width="0.8"/><circle cx="187.10" cy="835.70" r="0.95" fill="#3c3c3c" stroke="none"/></g>
<rect x="412.6" y="550.6" width="130.8" height="68.8" fill="#dedede" stroke="#666" stroke-width="1"/>
<circle cx="427.00" cy="564.00" r="8.80" fill="url(#gb)" stroke="#1c2e64" stroke-width="1.1"/><circle cx="430.00" cy="566.00" r="3.70" fill="url(#nb)"/>
<circle cx="427.00" cy="585.00" r="8.80" fill="url(#gg)" stroke="#1e1e1e" stroke-width="1.1"/><circle cx="429.50" cy="588.50" r="3.70" fill="url(#ng)"/>
<circle cx="427.00" cy="606.60" r="8.80" fill="url(#gr)" stroke="#3a1613" stroke-width="1.1"/><circle cx="429.50" cy="609.10" r="3.70" fill="url(#nr)"/>
<text x="439.6" y="567" font-family="'Liberation Sans', 'Noto Sans CJK SC', sans-serif" font-size="11" fill="#111">Spike-specific T cell</text>
<text x="439.6" y="588.6" font-family="'Liberation Sans', 'Noto Sans CJK SC', sans-serif" font-size="11" fill="#111">NP-specific T cell</text>
<text x="439.6" y="610" font-family="'Liberation Sans', 'Noto Sans CJK SC', sans-serif" font-size="11" fill="#111">Mem-specific T cell</text>
<text x="602.75" y="622.40" font-family="'Liberation Sans', 'Noto Sans CJK SC', sans-serif" font-size="16" fill="#111">•</text><text x="613.25" y="622.40" font-family="'Liberation Sans', 'Noto Sans CJK SC', sans-serif" font-size="16" fill="#111">Exclusive induction</text><text x="613.25" y="641.90" font-family="'Liberation Sans', 'Noto Sans CJK SC', sans-serif" font-size="16" fill="#111">of CD4+ SARS-</text><text x="613.25" y="661.40" font-family="'Liberation Sans', 'Noto Sans CJK SC', sans-serif" font-size="16" fill="#111">CoV-2-specific T</text><text x="613.25" y="680.90" font-family="'Liberation Sans', 'Noto Sans CJK SC', sans-serif" font-size="16" fill="#111">cells</text><text x="602.75" y="709.90" font-family="'Liberation Sans', 'Noto Sans CJK SC', sans-serif" font-size="16" fill="#111">•</text><text x="613.25" y="709.90" font-family="'Liberation Sans', 'Noto Sans CJK SC', sans-serif" font-size="16" fill="#111">Heterogenous T cell</text><text x="613.25" y="729.40" font-family="'Liberation Sans', 'Noto Sans CJK SC', sans-serif" font-size="16" fill="#111">responses against</text><text x="613.25" y="748.90" font-family="'Liberation Sans', 'Noto Sans CJK SC', sans-serif" font-size="16" fill="#111">Spike, NP and Mem</text>
<text x="14" y="878.5" font-family="'Liberation Sans', 'Noto Sans CJK SC', sans-serif" font-weight="700" font-size="13.4" letter-spacing="1.13" fill="#111" stroke="#111" stroke-width="0.3">来源：A comparative characterization of SARS-CoV-2-specific T cells</text>
<text x="14" y="894.5" font-family="'Liberation Sans', 'Noto Sans CJK SC', sans-serif" font-weight="700" font-size="13.4" letter-spacing="1.13" fill="#111" stroke="#111" stroke-width="0.3">induced by mRNA or inactive virus COVID-19 vaccines</text>
</svg>
</body></html>
